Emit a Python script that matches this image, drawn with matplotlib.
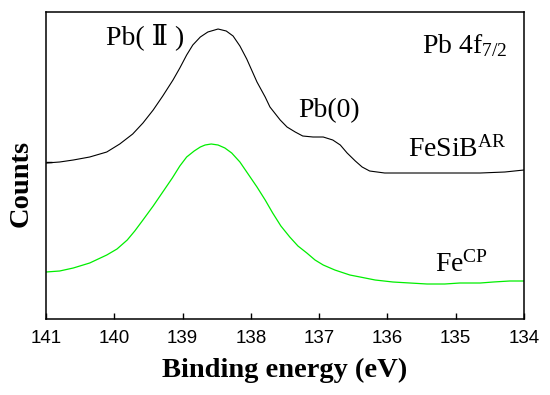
import matplotlib
matplotlib.use('Agg')
import matplotlib.pyplot as plt

# Serif fonts for labels, custom mathtext so sub/superscripts match
plt.rcParams['font.family'] = ['Liberation Serif', 'DejaVu Serif', 'Noto Sans CJK SC']
plt.rcParams['mathtext.fontset'] = 'custom'
plt.rcParams['mathtext.rm'] = 'Liberation Serif'
plt.rcParams['mathtext.it'] = 'Liberation Serif:italic'

# Binding energy (eV) and counts (arb. units)
be_black = [141.00, 140.80, 140.60, 140.36, 140.11, 139.92, 139.73, 139.58, 139.43, 139.29,
            139.14, 139.04, 138.94, 138.85, 138.74, 138.63, 138.48, 138.36, 138.26, 138.16,
            138.06, 137.91, 137.79, 137.72, 137.57, 137.47, 137.35, 137.24, 137.09, 136.94,
            136.80, 136.69, 136.59, 136.47, 136.37, 136.26, 136.04, 135.63, 135.13, 134.64,
            134.28, 134.00]
cnt_black = [156, 157, 159, 162, 167, 175, 185, 196, 209, 223,
             239, 251, 264, 274, 282, 287, 290, 288, 283, 273,
             260, 237, 222, 212, 199, 192, 187, 183, 182, 182,
             179, 174, 166, 158, 152, 148, 146, 146, 146, 146,
             147, 149]

be_green = [141.00, 140.80, 140.60, 140.36, 140.11, 139.96, 139.81, 139.70, 139.58, 139.43,
            139.29, 139.15, 139.04, 138.94, 138.83, 138.74, 138.67, 138.58, 138.48, 138.38,
            138.28, 138.16, 138.04, 137.91, 137.79, 137.68, 137.56, 137.43, 137.31, 137.18,
            137.06, 136.94, 136.77, 136.55, 136.40, 136.18, 135.92, 135.67, 135.42, 135.16,
            134.94, 134.64, 134.45, 134.21, 134.00]
cnt_green = [47, 48, 51, 56, 64, 70, 79, 88, 99, 113,
             127, 141, 153, 162, 168, 172, 174, 175, 174, 171,
             166, 157, 145, 132, 119, 106, 93, 82, 73, 66,
             59, 54, 49, 44, 42, 39, 37, 36, 35, 35,
             36, 36, 37, 38, 38]

x_ticks = [141, 140, 139, 138, 137, 136, 135, 134]


def plot_spectra():
    fig = plt.figure(figsize=(5.5, 3.95), dpi=100)
    ax = fig.add_axes([0.0836, 0.1924, 0.8691, 0.7772])

    ax.plot(be_black, cnt_black, color='black', lw=0.8)
    ax.plot(be_green, cnt_green, color='#00ee00', lw=0.9)

    ax.set_xlim(141, 134)
    ax.set_ylim(0, 307)
    ax.set_xticks(x_ticks)
    ax.set_xticklabels([str(t) for t in x_ticks], family='Liberation Sans', fontsize=13.5)
    ax.set_yticks([157])
    ax.set_yticklabels([])
    ax.tick_params(direction='in', length=4.5, width=1, pad=8)
    for sp in ax.spines.values():
        sp.set_linewidth(1.1)

    ax.set_xlabel('Binding energy (eV)', fontsize=20.5, fontweight='bold', labelpad=8)
    ax.set_ylabel('Counts', fontsize=20.5, fontweight='bold')
    ax.yaxis.set_label_coords(-0.026, 0.443)

    # Peak annotations
    ax.text(139.55, 275, 'Pb( Ⅱ )', fontsize=20, ha='center', va='baseline')
    ax.text(137.31, 202, 'Pb(0)', fontsize=20, ha='left', va='baseline')
    ax.text(135.49, 266, r'Pb 4f$_{7/2}$', fontsize=20, ha='left', va='baseline')
    ax.text(135.70, 162, r'FeSiB$^{\mathrm{AR}}$', fontsize=20, ha='left', va='baseline')
    ax.text(135.30, 47, r'Fe$^{\mathrm{CP}}$', fontsize=20, ha='left', va='baseline')

    fig.savefig('out.png', dpi=100)


if __name__ == '__main__':
    plot_spectra()
